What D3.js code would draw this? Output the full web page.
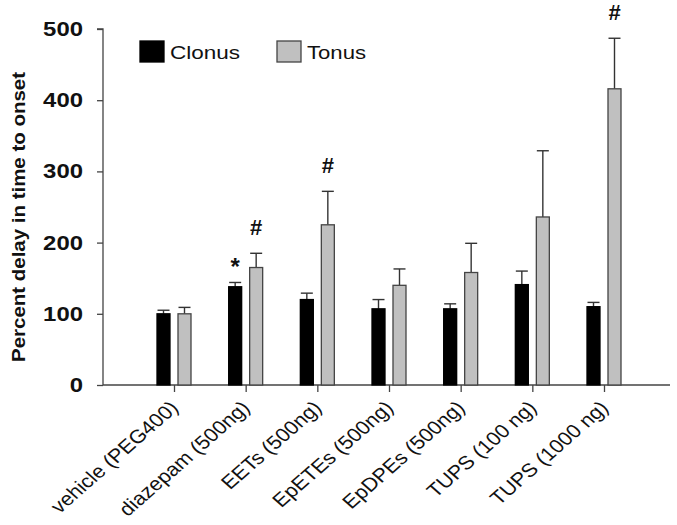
<!DOCTYPE html>
<html><head><meta charset="utf-8">
<script src="https://cdn.jsdelivr.net/npm/d3@7"></script>
<style>body{margin:0;background:#fff;} svg{display:block;}</style>
</head><body>
<svg id="c" width="677" height="525"></svg>
<script>
const categories = ["vehicle (PEG400)", "diazepam (500ng)", "EETs (500ng)", "EpETEs (500ng)", "EpDPEs (500ng)", "TUPS (100 ng)", "TUPS (1000 ng)"];
const seriesNames = ["Clonus", "Tonus"];
const clonus = [100, 138, 120, 107, 107, 141, 110];
const clonusErr = [5, 6, 9, 13, 7, 19, 6];
const tonus = [100, 165, 225, 140, 158, 236, 416];
const tonusErr = [9, 20, 47, 23, 41, 93, 71];
const clonusMarks = ["", "*", "", "", "", "", ""];
const tonusMarks = ["", "#", "#", "", "", "", "#"];
const yTicks = [0, 100, 200, 300, 400, 500];
const yTitle = "Percent delay in time to onset";

const svg = d3.select("#c");
const x0 = 103, x1 = 670, yTop = 29, yBot = 385;
const x = d3.scalePoint().domain(categories).range([174, 604]);
const y = d3.scaleLinear().domain([0, 500]).range([yBot, yTop]);
const barW = 13;
const offs = [-17, 4];
const fills = ["#000000", "#c0c0c0"];
const vals = [clonus, tonus], errs = [clonusErr, tonusErr], marks = [clonusMarks, tonusMarks];

// axes
const yAxis = svg.append("g").attr("transform", `translate(${x0},0)`)
  .call(d3.axisLeft(y).tickValues(yTicks).tickSize(6).tickPadding(14));
yAxis.select(".domain").attr("stroke", "#444").attr("stroke-width", 1.3).attr("d", `M-6,${yTop}H0V${yBot}`);
yAxis.selectAll(".tick line").attr("stroke", "#444").attr("stroke-width", 1.3);
yAxis.selectAll(".tick text").attr("font-family", "Liberation Sans, Arial, sans-serif")
  .attr("font-weight", "bold").attr("font-size", 20).attr("fill", "#111")
  .attr("textLength", d => String(d).length * 13.3).attr("lengthAdjust", "spacingAndGlyphs");

const xAxis = svg.append("g").attr("transform", `translate(0,${yBot})`)
  .call(d3.axisBottom(x).tickSize(7).tickSizeOuter(0));
xAxis.select(".domain").attr("stroke", "#444").attr("stroke-width", 1.3).attr("d", `M${x0},0H${x1}`);
xAxis.selectAll(".tick line").attr("stroke", "#444").attr("stroke-width", 1.3);
xAxis.selectAll(".tick text")
  .attr("font-family", "Liberation Sans, Arial, sans-serif").attr("font-size", 19).attr("fill", "#111")
  .attr("text-anchor", "end").attr("dy", 0).attr("y", 0).attr("x", 0)
  .attr("transform", "translate(5,24) scale(1.14,1) rotate(-45)");

// bars
seriesNames.forEach((s, si) => {
  const g = svg.append("g");
  categories.forEach((c, i) => {
    const bx = x(c) + offs[si];
    const top = y(vals[si][i] + errs[si][i]);
    g.append("line").attr("x1", bx + barW / 2).attr("x2", bx + barW / 2)
      .attr("y1", y(vals[si][i])).attr("y2", top).attr("stroke", "#333").attr("stroke-width", 1.4);
    g.append("line").attr("x1", bx + barW / 2 - 6).attr("x2", bx + barW / 2 + 6)
      .attr("y1", top).attr("y2", top).attr("stroke", "#333").attr("stroke-width", 1.4);
    g.append("rect").attr("x", bx).attr("width", barW)
      .attr("y", y(vals[si][i])).attr("height", y(0) - y(vals[si][i]))
      .attr("fill", fills[si]).attr("stroke", si ? "#444" : "#000").attr("stroke-width", 1.3);
    const m = marks[si][i];
    if (m) {
      g.append("text").attr("x", bx + barW / 2).attr("y", top - (m === "*" ? 7 : 18))
        .attr("text-anchor", "middle").attr("font-family", "Liberation Sans, Arial, sans-serif")
        .attr("font-weight", "bold").attr("font-size", m === "*" ? 24 : 22).attr("fill", "#111").text(m);
    }
  });
});

// y title
svg.append("text").attr("transform", "translate(25,217) rotate(-90)")
  .attr("text-anchor", "middle").attr("font-family", "Liberation Sans, Arial, sans-serif")
  .attr("font-weight", "bold").attr("font-size", 19).attr("fill", "#111")
  .attr("textLength", 290).attr("lengthAdjust", "spacingAndGlyphs").text(yTitle);

// legend
const legX = [140, 277], legTL = [70, 59];
seriesNames.forEach((s, si) => {
  svg.append("rect").attr("x", legX[si]).attr("y", 41).attr("width", 24).attr("height", 21)
    .attr("fill", fills[si]).attr("stroke", si ? "#444" : "#000").attr("stroke-width", 1.3);
  svg.append("text").attr("x", legX[si] + 30).attr("y", 59)
    .attr("font-family", "Liberation Sans, Arial, sans-serif").attr("font-size", 19).attr("fill", "#111")
    .attr("textLength", legTL[si]).attr("lengthAdjust", "spacingAndGlyphs").text(s);
});
</script>
</body></html>
